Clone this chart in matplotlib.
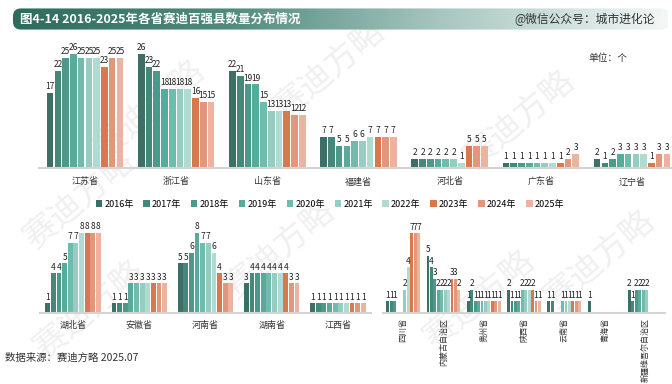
"""Bar chart: number of top-100 counties per province, 2016-2025."""

import numpy as np
import matplotlib
matplotlib.use("Agg")
import matplotlib.pyplot as plt
from matplotlib.patches import FancyBboxPatch
from matplotlib.colors import LinearSegmentedColormap

plt.rcParams["font.family"] = ["Noto Sans CJK SC", "DejaVu Sans"]

W, H = 672, 384

years = ["2016年", "2017年", "2018年", "2019年", "2020年",
         "2021年", "2022年", "2023年", "2024年", "2025年"]
year_colors = ["#3c6f66", "#44877b", "#4b998b", "#56ab9c", "#6fbcaf",
               "#95cdc3", "#b0dbd3", "#d9784d", "#e2977c", "#ebb4a0"]

# top row
top_names = ["江苏省", "浙江省", "山东省", "福建省", "河北省", "广东省", "辽宁省"]
jiangsu = [17, 22, 25, 26, 25, 25, 25, 23, 25, 25]
zhejiang = [26, 23, 22, 18, 18, 18, 18, 16, 15, 15]
shandong = [22, 21, 19, 19, 15, 13, 13, 13, 12, 12]
fujian = [7, 7, 5, 5, 6, 6, 7, 7, 7, 7]
hebei = [2, 2, 2, 2, 2, 2, 1, 5, 5, 5]
guangdong = [1, 1, 1, 1, 1, 1, 1, 1, 2, 3]
liaoning = [2, 1, 2, 3, 3, 3, 3, 1, 3, 3]

# bottom row, left
mid_names = ["湖北省", "安徽省", "河南省", "湖南省", "江西省"]
hubei = [1, 4, 4, 5, 7, 7, 8, 8, 8, 8]
anhui = [1, 1, 1, 3, 3, 3, 3, 3, 3, 3]
henan = [5, 5, 6, 8, 7, 7, 6, 4, 3, 3]
hunan = [3, 4, 4, 4, 4, 4, 4, 4, 3, 3]
jiangxi = [1, 1, 1, 1, 1, 1, 1, 1, 1, 1]

# bottom row, right
small_names = ["四川省", "内蒙古自治区", "贵州省", "陕西省", "云南省", "青海省", "新疆维吾尔自治区"]
sichuan = [1, 1, 1, 0, 0, 2, 4, 7, 7, 7]
neimenggu = [5, 4, 3, 2, 2, 2, 2, 3, 3, 2]
guizhou = [1, 2, 1, 1, 1, 1, 1, 1, 1, 1]
shaanxi = [2, 1, 1, 1, 2, 2, 2, 2, 1, 1]
yunnan = [1, 1, 0, 0, 1, 1, 1, 1, 1, 1]
qinghai = [1, 0, 0, 0, 0, 0, 0, 0, 0, 0]
xinjiang = [2, 1, 2, 2, 2, 2, 0, 0, 0, 0]


def px_axes(fig, x0, y0, x1, y1):
    return fig.add_axes([x0 / W, 1 - y1 / H, (x1 - x0) / W, (y1 - y0) / H])


def draw_group(ax, names, rows, ymax, rotate=False, pad=7):
    counts = np.array(rows)
    x = np.arange(len(names))
    slot = 0.085
    n = counts.shape[1]
    for j in range(n):
        pos = x + (j - (n - 1) / 2) * slot
        vals = counts[:, j]
        keep = vals > 0
        ax.bar(pos[keep], vals[keep], width=slot * 0.86, color=year_colors[j],
               label=years[j], zorder=2)
        for p, v in zip(pos[keep], vals[keep]):
            ax.text(p, v + ymax * 0.015, str(v), ha="center", va="bottom",
                    fontsize=6, color="#222222", zorder=3)
    ax.set_xlim(-0.5, len(names) - 0.5)
    ax.set_ylim(0, ymax)
    ax.set_xticks(x)
    if rotate:
        ax.set_xticklabels(names, rotation=90, va="top", ha="center", fontsize=5.8)
    else:
        ax.set_xticklabels(names, fontsize=6.5)
    ax.tick_params(axis="x", length=0, pad=pad, labelcolor="#333333")
    ax.set_yticks([])
    for s in ["top", "left", "right"]:
        ax.spines[s].set_visible(False)
    ax.spines["bottom"].set_color("#d4d4d4")
    ax.spines["bottom"].set_linewidth(1.5)
    ax.set_facecolor("none")


fig = plt.figure(figsize=(W / 100, H / 100), dpi=100)

# watermark
for (wx, wy) in [(90, 310), (150, 110), (280, 250), (330, 70), (480, 300),
                 (520, 120), (600, 260), (80, 200)]:
    fig.text(wx / W, 1 - wy / H, "赛迪方略", fontsize=24, rotation=40,
             color="#f0f0f0", ha="center", va="center", zorder=-5)

# header banner
hax = px_axes(fig, 5, 8, 668, 30)
grad = np.linspace(0, 1, 256).reshape(1, -1)
cmap = LinearSegmentedColormap.from_list("hdr", ["#2c6a5c", "#4f8a7d", "#a9c8c1", "#f3f7f6"])
im = hax.imshow(grad, aspect="auto", cmap=cmap, extent=(0, 1, 0, 1))
patch = FancyBboxPatch((0.012, 0.02), 0.99, 0.96, boxstyle="round,pad=0,rounding_size=0.012",
                       transform=hax.transAxes, facecolor="none", edgecolor="none",
                       mutation_aspect=30)
hax.add_patch(patch)
im.set_clip_path(patch)
hax.set_xlim(0, 1)
hax.set_ylim(0, 1)
hax.axis("off")
fig.text(20 / W, 1 - 19 / H, "图4-14 2016-2025年各省赛迪百强县数量分布情况",
         fontsize=9, fontweight="bold", color="white", va="center")
fig.text(655 / W, 1 - 19 / H, "@微信公众号：城市进化论", fontsize=8.5,
         color="#333333", va="center", ha="right")

# top row
ax_top = px_axes(fig, 39.4, 36.4, 677.6, 167.5)
draw_group(ax_top, top_names,
           [jiangsu, zhejiang, shandong, fujian, hebei, guangdong, liaoning], 30)
fig.text(608 / W, 1 - 58 / H, "单位：个", fontsize=7, color="#333333",
         ha="center", va="center")

# bottom row left
ax_mid = px_axes(fig, 40, 213, 371, 313)
draw_group(ax_mid, mid_names, [hubei, anhui, henan, hunan, jiangxi], 10, pad=6)

# bottom row right
ax_small = px_axes(fig, 383, 210.5, 665, 312.5)
draw_group(ax_small, small_names,
           [sichuan, neimenggu, guizhou, shaanxi, yunnan, qinghai, xinjiang], 9,
           rotate=True, pad=4)

# legend
handles, labels = ax_top.get_legend_handles_labels()
fig.legend(handles, labels, loc="center", bbox_to_anchor=(330 / W, 1 - 204 / H),
           ncol=10, frameon=False, fontsize=6.5, handlelength=0.7, handleheight=0.7,
           handletextpad=0.25, columnspacing=1.1)

fig.text(5 / W, 1 - 358 / H, "数据来源：赛迪方略 2025.07", fontsize=7.5,
         color="#333333", va="center")

fig.savefig("out.png", dpi=100)
